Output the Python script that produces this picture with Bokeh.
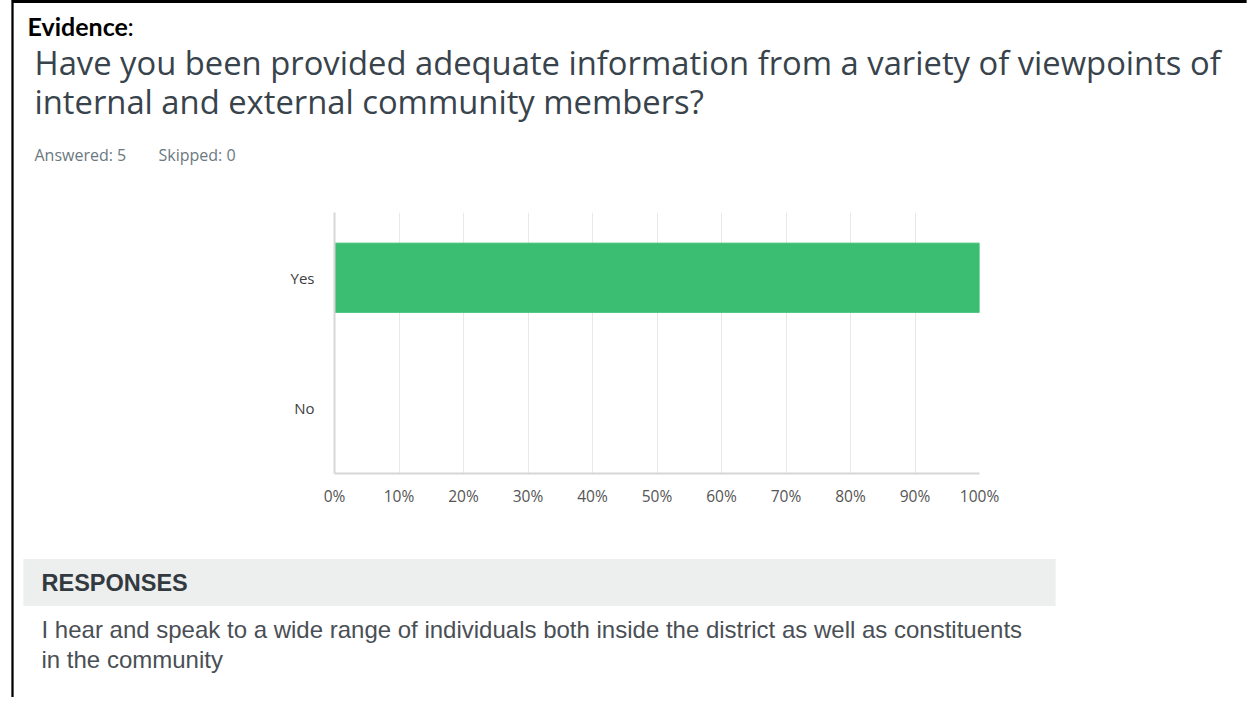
from bokeh.plotting import figure
from bokeh.models import Range1d, FactorRange, FixedTicker, Label
from bokeh.embed import file_html
from bokeh.resources import INLINE

# ---- data ----
categories = ["Yes", "No"]
values = [1.0, 0.0]
tick_values = [0.0, 0.1, 0.2, 0.3, 0.4, 0.5, 0.6, 0.7, 0.8, 0.9, 1.0]
tick_labels = ["0%", "10%", "20%", "30%", "40%", "50%", "60%", "70%", "80%", "90%", "100%"]
header = "Evidence"
question_lines = ["Have you been provided adequate information from a variety of viewpoints of",
                  "internal and external community members?"]
stats_text = ["Answered: 5", "Skipped: 0"]
responses_title = "RESPONSES"
response_lines = ["I hear and speak to a wide range of individuals both inside the district as well as constituents",
                  "in the community"]

# ---- layout (canvas pixel positions) ----
W, H = 1248, 697
FL, FR, FT, FB = 334, 979, 212, 473

p = figure(width=W, height=H, output_backend="svg", toolbar_location=None,
           x_range=Range1d(0, 1), y_range=FactorRange(*categories[::-1]),
           min_border_left=FL, min_border_right=W - FR,
           min_border_top=FT, min_border_bottom=H - FB)
p.outline_line_color = None
p.background_fill_color = "white"
p.border_fill_color = "white"

p.hbar(y=categories, right=values, left=0, height=0.53, color="#3bbe72", line_color="#3bbe72")

p.xaxis.ticker = FixedTicker(ticks=tick_values)
p.xaxis.major_label_overrides = {v: l for v, l in zip(tick_values, tick_labels)}
p.xaxis.major_tick_line_color = None
p.xaxis.minor_tick_line_color = None
p.xaxis.axis_line_color = "#d6d6d6"
p.xaxis.axis_line_width = 2
p.xaxis.major_label_text_font = "Open Sans"
p.xaxis.major_label_text_font_size = "15.5px"
p.xaxis.major_label_text_color = "#555555"
p.xaxis.major_label_standoff = 5

p.yaxis.major_tick_line_color = None
p.yaxis.minor_tick_line_color = None
p.yaxis.axis_line_color = "#d6d6d6"
p.yaxis.axis_line_width = 2
p.yaxis.major_label_text_font = "Open Sans"
p.yaxis.major_label_text_font_size = "15px"
p.yaxis.major_label_text_color = "#404040"
p.yaxis.major_label_standoff = 14

p.xgrid.grid_line_color = "#e8e8e8"
p.ygrid.grid_line_color = None


def add_label(text, X, Y, size, color, place, font="Open Sans", style="normal"):
    p.add_layout(Label(x=X, y=Y, x_units="canvas", y_units="canvas", text=text,
                       text_font=font, text_font_size=size, text_color=color,
                       text_font_style=style, text_align="left", text_baseline="middle"), place)


def add_box(cx, cy, half_w, half_h, color, place):
    # padding is given as (horizontal, vertical)
    p.add_layout(Label(x=cx, y=cy, x_units="canvas", y_units="canvas", text=" ",
                       text_font_size="1px", text_align="center", text_baseline="middle",
                       background_fill_color=color, background_fill_alpha=1,
                       padding=(half_w, half_h)), place)


# border lines
add_box(629, 1, 617, 1, "black", "above")
add_box(12, 348, 1, 348, "black", "left")
# responses band
add_box(539, 582, 516, 23, "#edeeee", "below")

add_label(header, 27, 25, "25px", "#000000", "above", font="Lato", style="bold")
add_label(":", 127, 25, "25px", "#000000", "above", font="Lato")
add_label(question_lines[0], 34, 62, "32.75px", "#38434c", "above")
add_label(question_lines[1], 34, 101, "32.75px", "#38434c", "above")
add_label(stats_text[0], 34, 154, "16px", "#6b787f", "above")
add_label(stats_text[1], 158, 154, "16px", "#6b787f", "above")
add_label(responses_title, 41, 582, "23.5px", "#333a3f", "below", font="Liberation Sans", style="bold")
add_label(response_lines[0], 41, 629, "24px", "#4a4f55", "below", font="Liberation Sans")
add_label(response_lines[1], 41, 659, "24px", "#4a4f55", "below", font="Liberation Sans")

open("out.html", "w").write(file_html(p, INLINE))
